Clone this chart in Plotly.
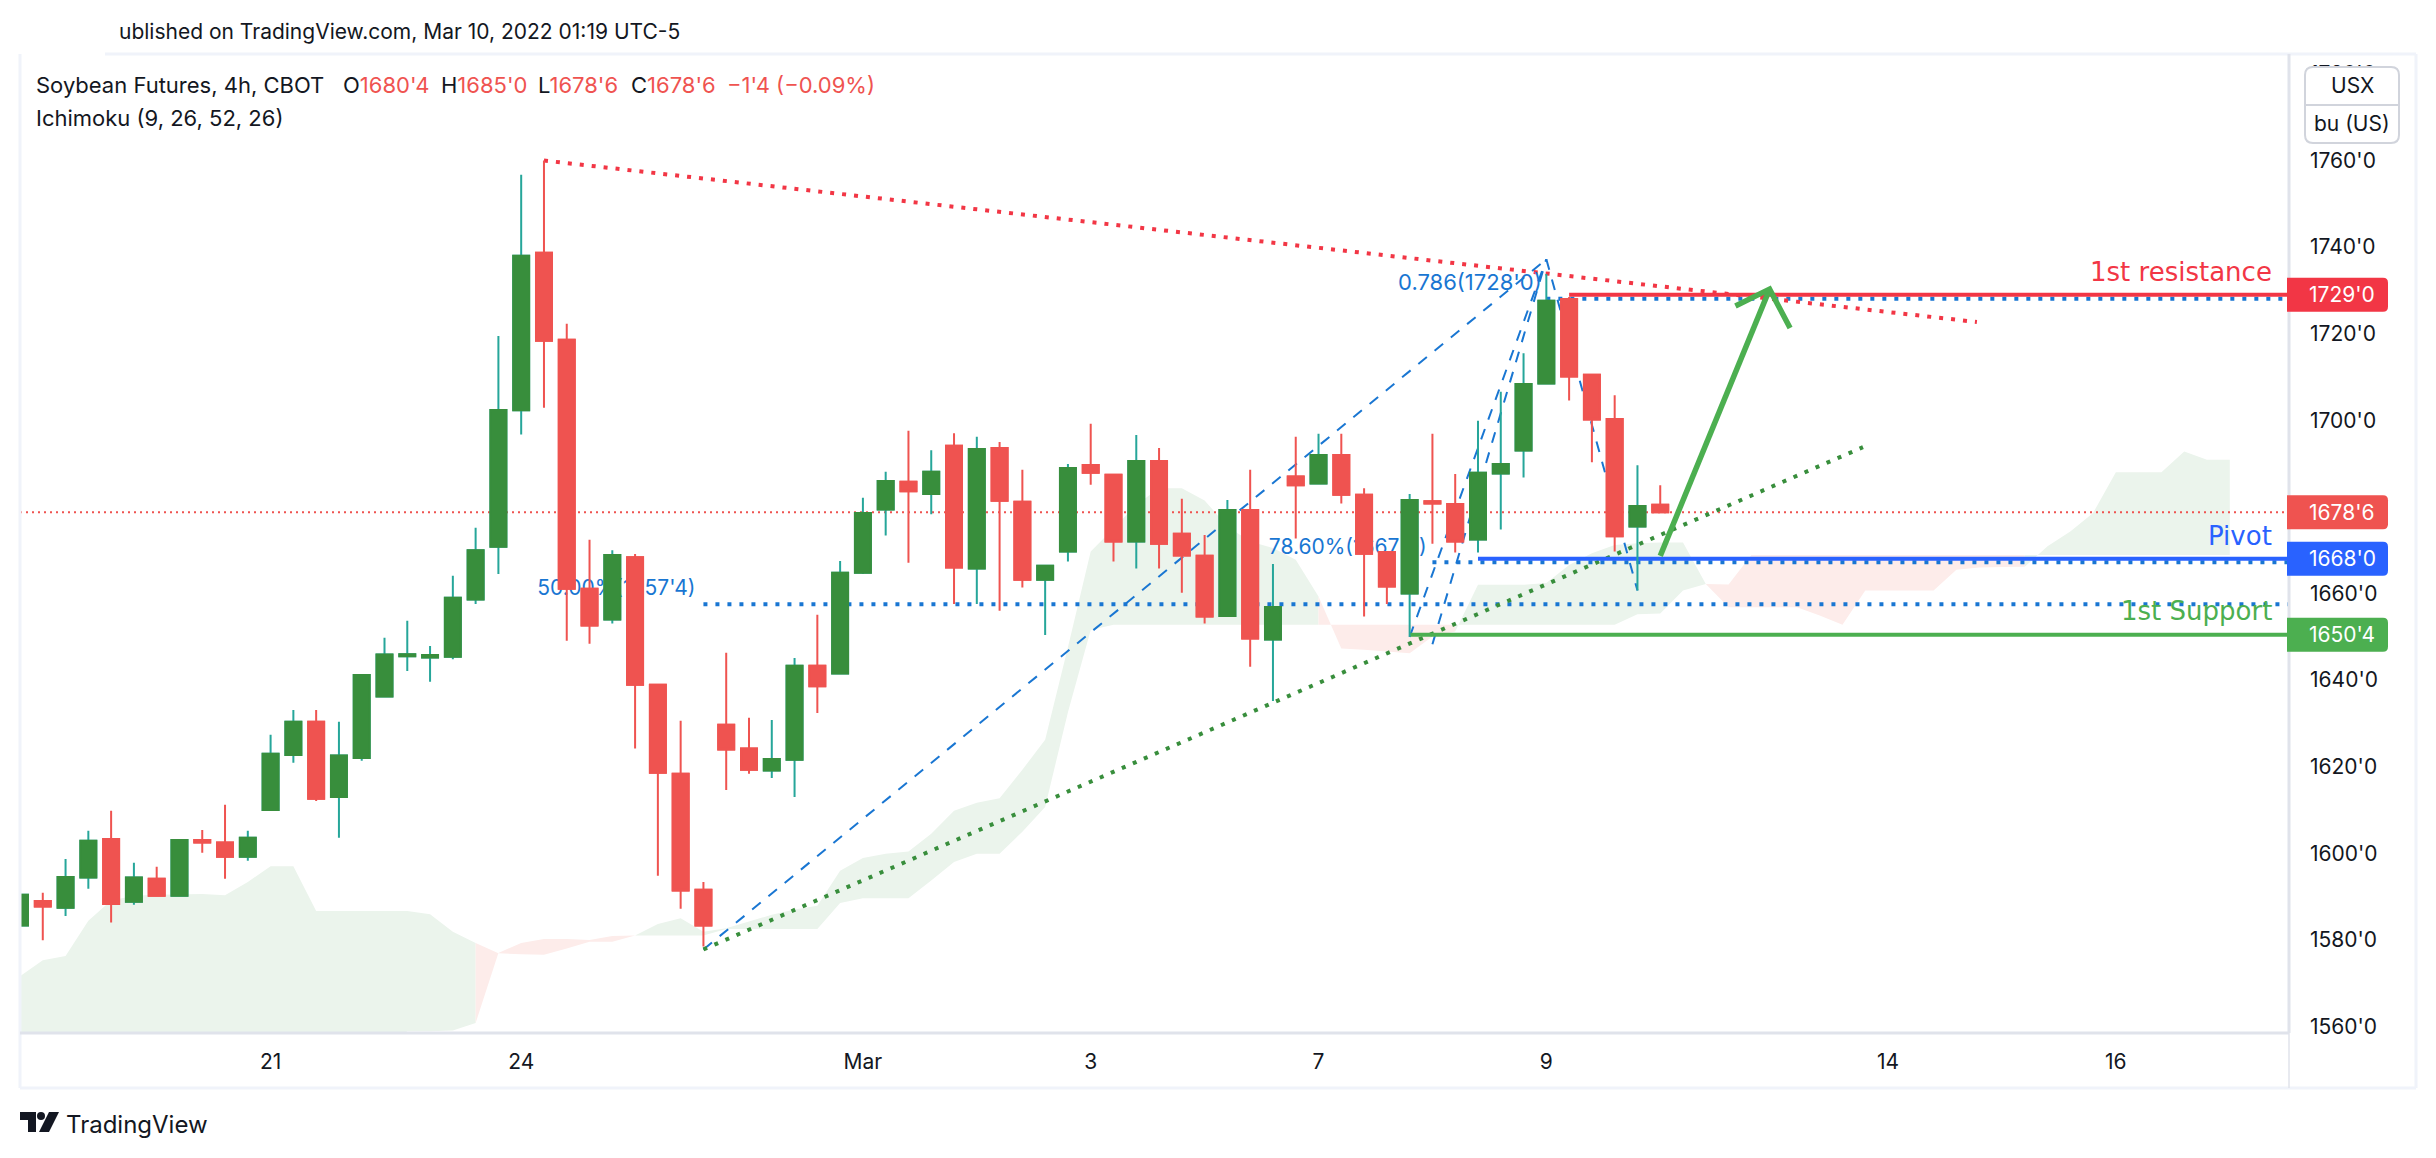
import plotly.graph_objects as go

# candles (price in cents, index = bar number)
c_open = [1583.3,1589,1587.4,1594.4,1603.3,1588.8,1594.1,1590.2,1603.1,1602.5,1599.2,1610,1622.7,1630.4,1613,1622,1636.2,1645.5,1645.2,1645.4,1658.6,1670.8,1702.3,1738.7,1718.6,1661.1,1654,1668.4,1638.9,1618.4,1591.6,
          1629.7,1624.2,1619.1,1621.6,1643.3,1641.5,1664.8,1679.4,1685.8,1683,1694.1,1665.8,1693.6,1681.2,1663.2,1669.7,1689.7,1687.4,1672,1690.6,1673.8,1668.7,1654.8,1679.3,1649.4,1687,1685.4,1692,1682.8,1669.6,1660,1681.3,1680.7,1672.5,1687.7,1693,1708.5,1728,1710.5,1700.3,1675.5,1680.5]
c_high = [1593.4,1590.9,1598.7,1605.2,1609.8,1597.8,1596.9,1603.3,1605.4,1611.2,1605.2,1627.4,1633.1,1633.1,1630.4,1641.2,1649.8,1653.7,1647.9,1664.1,1675.2,1719.5,1756.7,1760,1722.3,1672.4,1670,1669.1,1638.9,1630.6,1593.4,
          1646.3,1631.3,1630.8,1645.1,1655.1,1667.5,1682.1,1688.1,1697.6,1693.1,1697,1696.2,1695,1688.6,1666.4,1689.9,1699.2,1687.4,1696.6,1693.6,1681.9,1673.5,1681.6,1688.6,1666.8,1696.2,1696.9,1696.9,1684.3,1669.6,1683,1696.9,1687.6,1699.9,1706.6,1715.5,1733.8,1728.5,1710.5,1705.8,1689.6,1685]
c_low = [1581,1579.9,1585.5,1591.8,1584,1588.1,1590.2,1590.2,1600.1,1594.1,1598.3,1610,1620.9,1612.1,1603.6,1621.4,1636.2,1642.1,1639.6,1644.8,1657.6,1664.5,1696.7,1702.9,1649.1,1648.4,1653.1,1624.2,1594.8,1587.2,1578.5,
         1614.6,1618.4,1617.4,1613,1632.4,1641.5,1664.5,1673.4,1667.1,1678.3,1657.6,1657.6,1656,1661.4,1650.4,1667.4,1685.1,1667.4,1665.8,1665.8,1660.2,1653.1,1654.7,1643.1,1635.2,1672.7,1685.4,1680.8,1654.7,1657.6,1650,1671.5,1669.5,1669.5,1674.8,1686.8,1708.5,1704.6,1690.3,1669.7,1660.7,1678.75]
c_close = [1590.4,1587.7,1594.5,1602.9,1588.3,1594.4,1590.2,1603.1,1602.5,1599.2,1603.6,1623,1630.4,1612.6,1622.6,1641.2,1645.9,1646,1645.8,1659,1670,1702.4,1738,1718.4,1661.1,1652.6,1668.9,1638.9,1618.6,1591.4,1583.3,
           1624,1619.3,1621.8,1643.3,1638.6,1664.8,1678.6,1686,1683.6,1688.1,1666,1693.4,1681.4,1663.2,1666.4,1689,1687.9,1672,1690.6,1671.5,1668.8,1654.7,1679.3,1649.6,1656.9,1685,1692,1682.8,1669.2,1661.6,1681.6,1680.8,1672,1687.9,1689.9,1708.4,1727.6,1710.1,1700.2,1673.2,1680.2,1678.75]
bars = list(range(len(c_open)))

# ichimoku cloud edges, bars 0..97
span_a = [1571.6,1575.3,1576.3,1584.4,1589.1,1590.2,1590.4,1590.5,1590.6,1590.3,1593.4,1597,1597,1586.7,1586.7,1586.7,1586.7,1586.7,1585.9,1581.9,1579.3,
          1576.9,1576.7,1576.6,1578,1579.6,1579.6,1581,1583.7,1585,1581.9,1582.7,1584.2,1585.8,1587,1587.9,1596,1598.9,1599.9,1600.4,1604.5,1609.8,1611.7,1612.7,1619.3,1626.2,1647.6,1669.7,
          1675,1680.5,1684.3,1684.3,1681.5,1675.5,1672,1670.5,1667.8,1659.3,1647.3,1647,1646.6,1646.2,1650.1,1651.2,1662,1662,1662,1662.4,1666.6,1669.3,1671.2,1671.6,1671.8,1671.8,1662.2,
          1656.8,1656.8,1656.8,1656.8,1654.9,1652.8,1660.7,1660.7,1660.7,1660.7,1665.5,1666,1666.1,1666.2,1670.9,1674.3,1678.6,1688,1688,1688,1692.8,1690.9,1690.9]
span_b = [1555,1555,1555,1555,1555,1555,1555,1555,1555,1555,1555,1555,1555,1555,1555,1555,1555,1558.9,1558.9,1559.1,1560.8,
          1577,1579.3,1580.2,1580.2,1580,1580.9,1581,1581,1581,1581,1582.5,1582.5,1582.5,1582.5,1582.5,1588.5,1589.6,1589.6,1589.6,1593.7,1598,1599.9,1599.9,1605,1610.7,1632.6,1651.6,
          1652.8,1652.8,1652.8,1652.8,1652.8,1652.8,1652.8,1652.8,1652.8,1652.8,1652.8,1652.8,1652.8,1652.8,1652.8,1652.8,1652.8,1652.8,1652.8,1652.8,1652.8,1652.8,1652.8,1655.2,1655.4,1660.7,1662.2,
          1662.1,1668.9,1668.9,1668.9,1668.9,1668.9,1668.9,1668.9,1668.9,1668.9,1668.9,1668.9,1668.9,1668.9,1668.9,1668.9,1668.9,1668.9,1668.9,1668.9,1668.9,1668.9,1668.9]
# (first bar, last bar, colour) of each cloud stretch
cloud_parts = [(0,20,'#ebf4ec'),(20,27,'#fdecea'),(27,57,'#ebf4ec'),(57,63,'#fdecea'),(63,74,'#ebf4ec'),(74,88,'#fdecea'),(88,97,'#ebf4ec')]

x_tickvals = [11,22,37,47,57,67,82,92]
x_ticktext = ['21','24','Mar','3','7','9','14','16']
y_tickvals = [1780,1760,1740,1720,1700,1660,1640,1620,1600,1580,1560]
y_ticktext = ["1780'0","1760'0","1740'0","1720'0","1700'0","1660'0","1640'0","1620'0","1600'0","1580'0","1560'0"]

last_price = 1678.75
resistance = 1729
pivot = 1668
support = 1650.5
fib_786 = 1728.1
fib_7860 = 1667.2
fib_50 = 1657.5

RED='#f23645'; BLUE='#2962ff'; GREEN='#4caf50'; FIB='#1976d2'; DARK='#131722'
FONT='Inter'

# pixel box of the plot area in the page
L,R,T,B = 20,2289,54,1033
W,H = 2436,1158
x_range = [0,99.6]
y_range = [1558.5,1784.6]
def px(x): return (x-L)/(R-L)
def py(y): return (B-y)/(B-T)

fig = go.Figure()

# cloud
for a,b,col in cloud_parts:
    xs = list(range(a,b+1))
    fig.add_trace(go.Scatter(x=xs,y=span_b[a:b+1],mode='lines',line=dict(width=0),hoverinfo='skip'))
    fig.add_trace(go.Scatter(x=xs,y=span_a[a:b+1],mode='lines',line=dict(width=0),fill='tonexty',fillcolor=col,hoverinfo='skip'))

def line(xs,ys,color,width,dash='solid'):
    fig.add_trace(go.Scatter(x=xs,y=ys,mode='lines',line=dict(color=color,width=width,dash=dash),hoverinfo='skip'))

# last price
line(x_range,[last_price,last_price],'#ef5350',2,'2px,4px')
# fib lines
dash_fib='11px,10px'
line([30,67],[1577.8,1737.2],FIB,2,dash_fib)
line([61,67],[1650,1737.2],FIB,2,dash_fib)
line([62,67],[1648.3,1737.2],FIB,2,dash_fib)
line([67,71],[1737.2,1660.7],FIB,2,dash_fib)
dot='4px,8px'
line([67,x_range[1]],[fib_786,fib_786],FIB,4,dot)
line([62,x_range[1]],[fib_7860,fib_7860],FIB,4,dot)
line([30,x_range[1]],[fib_50,fib_50],FIB,4,dot)
# trend lines
line([23,85.9],[1760,1722.7],RED,4,dot)
line([30,80.9],[1577.8,1693.8],'#388e3c',4,dot)
# levels
line([68,x_range[1]],[resistance,resistance],RED,4)
line([64,x_range[1]],[pivot,pivot],BLUE,4)
line([61,x_range[1]],[support,support],GREEN,4)
# arrow
line([72,76.8],[1668.7,1730.3],GREEN,5.5)
line([75.3,76.8,77.7],[1726.4,1730.3,1721.3],GREEN,5.5)

# fib texts sit under the candles, so they are scatter text and not annotations
fig.add_trace(go.Scatter(x=[66.8,61.75,29.65],y=[1731.3,1670.3,1660.8],mode='text',
    text=["0.786(1728'0)","78.60%(1667'0)","50.00%(1657'4)"],textposition='middle left',
    textfont=dict(color=FIB,size=[22,21,21],family=FONT),hoverinfo='skip'))

# candles on an overlay axis: wicks first, then bodies on top
fig.add_trace(go.Candlestick(x=bars,open=c_open,high=c_high,low=c_low,close=c_close,xaxis='x2',yaxis='y2',
    increasing=dict(line=dict(color='#26a69a',width=2),fillcolor='#388e3c'),
    decreasing=dict(line=dict(color='#ef5350',width=2),fillcolor='#ef5350'),hoverinfo='skip'))
body_high = [max(o,c) for o,c in zip(c_open,c_close)]
body_low = [min(o,c) for o,c in zip(c_open,c_close)]
fig.add_trace(go.Candlestick(x=bars,open=c_open,high=body_high,low=body_low,close=c_close,xaxis='x2',yaxis='y2',
    increasing=dict(line=dict(color='#388e3c',width=2),fillcolor='#388e3c'),
    decreasing=dict(line=dict(color='#ef5350',width=2),fillcolor='#ef5350'),hoverinfo='skip'))

shapes = []
border = '#f0f3fa'
for x0,y0,x1,y1 in [(105,54,2416,54),(20,54,20,1088),(20,1088,2416,1088),(2416,54,2416,1088)]:
    shapes.append(dict(type='line',xref='paper',yref='paper',x0=px(x0),y0=py(y0),x1=px(x1),y1=py(y1),line=dict(color=border,width=3)))
shapes.append(dict(type='line',xref='paper',yref='paper',x0=px(20),y0=py(B),x1=px(R),y1=py(B),line=dict(color='#e0e3eb',width=3)))
shapes.append(dict(type='line',xref='paper',yref='paper',x0=px(R),y0=py(54),x1=px(R),y1=py(B),line=dict(color='#e0e3eb',width=3)))
shapes.append(dict(type='line',xref='paper',yref='paper',x0=px(R),y0=py(B),x1=px(R),y1=py(1088),line=dict(color='#e0e3eb',width=1.5)))

# price tags on the axis
ann = []
def tag(price,text,color):
    yc = T+(y_range[1]-price)/(y_range[1]-y_range[0])*(B-T)
    x0,x1,y0,y1,r = R-2,2388,yc-17,yc+17,5
    path = (f'M {px(x0)} {py(y0)} L {px(x1-r)} {py(y0)} Q {px(x1)} {py(y0)} {px(x1)} {py(y0+r)} '
            f'L {px(x1)} {py(y1-r)} Q {px(x1)} {py(y1)} {px(x1-r)} {py(y1)} L {px(x0)} {py(y1)} Z')
    shapes.append(dict(type='path',xref='paper',yref='paper',path=path,fillcolor=color,line=dict(width=0)))
    ann.append(dict(xref='paper',yref='y',x=px(2307),y=price,xanchor='left',yanchor='middle',text=text,showarrow=False,
                    font=dict(color='white',size=21,family=FONT)))
tag(resistance,"1729'0",RED)
tag(last_price,"1678'6",'#ef5350')
tag(pivot,"1668'0",BLUE)
tag(support,"1650'4",GREEN)

# currency / unit box
x0,x1,y0,y1,r = 2305,2399,67,143,8
path = (f'M {px(x0+r)} {py(y0)} L {px(x1-r)} {py(y0)} Q {px(x1)} {py(y0)} {px(x1)} {py(y0+r)} L {px(x1)} {py(y1-r)} Q {px(x1)} {py(y1)} {px(x1-r)} {py(y1)} '
        f'L {px(x0+r)} {py(y1)} Q {px(x0)} {py(y1)} {px(x0)} {py(y1-r)} L {px(x0)} {py(y0+r)} Q {px(x0)} {py(y0)} {px(x0+r)} {py(y0)} Z')
shapes.append(dict(type='path',xref='paper',yref='paper',path=path,fillcolor='white',line=dict(color='#d1d4dc',width=2)))
shapes.append(dict(type='line',xref='paper',yref='paper',x0=px(x0),y0=py(105),x1=px(x1),y1=py(105),line=dict(color='#d1d4dc',width=2)))

def text(x,y,s,color=DARK,size=22,anchor='left',family=FONT):
    ann.append(dict(xref='paper',yref='paper',x=px(x),y=py(y),xanchor=anchor,yanchor='middle',text=s,showarrow=False,
                    font=dict(color=color,size=size,family=family)))
text(2352,85,'USX',size=21,anchor='center')
text(2352,123,'bu (US)',size=21,anchor='center')
text(117,31,'ublished on TradingView.com, Mar 10, 2022 01:19 UTC-5',size=21)
text(34,85,'Soybean Futures, 4h, CBOT')
nums = [(341,'O',"1680'4"),(439,'H',"1685'0"),(536,'L',"1678'6"),(629,'C',"1678'6")]
for x,k,v in nums:
    text(x,85,f"{k}<span style='color:#ef5350'>{v}</span>")
text(725,85,"\u22121'4 (\u22120.09%)",color='#ef5350')
text(34,118,'Ichimoku (9, 26, 52, 26)')
text(2274,272,'1st resistance',RED,26,'right','DejaVu Sans')
text(2274,536,'Pivot',BLUE,26,'right','DejaVu Sans')
text(2274,611,'1st Support',GREEN,26,'right','DejaVu Sans')
text(64,1124,'TradingView',DARK,24)

# logo
shapes.append(dict(type='path',xref='paper',yref='paper',fillcolor=DARK,line=dict(width=0),
    path=f'M {px(20)} {py(1112)} L {px(36)} {py(1112)} L {px(36)} {py(1132)} L {px(28)} {py(1132)} L {px(28)} {py(1120)} L {px(20)} {py(1120)} Z'))
shapes.append(dict(type='circle',xref='paper',yref='paper',fillcolor=DARK,line=dict(width=0),x0=px(37),x1=px(45),y0=py(1112),y1=py(1120)))
shapes.append(dict(type='path',xref='paper',yref='paper',fillcolor=DARK,line=dict(width=0),
    path=f'M {px(49)} {py(1112)} L {px(59)} {py(1112)} L {px(49)} {py(1132)} L {px(39)} {py(1132)} Z'))

axis_font = dict(color=DARK,size=21,family=FONT)
fig.update_layout(
    width=W,height=H,autosize=False,showlegend=False,
    paper_bgcolor='white',plot_bgcolor='white',
    margin=dict(l=L,r=W-R,t=T,b=H-B,pad=0),
    boxmode='overlay',boxgap=0.3,boxgroupgap=0,
    shapes=shapes,annotations=ann,hovermode=False,
    xaxis=dict(range=x_range,tickvals=x_tickvals,ticktext=x_ticktext,showgrid=False,zeroline=False,tickfont=axis_font,
               ticklen=0,ticklabelstandoff=14,rangeslider_visible=False,showline=False),
    yaxis=dict(range=y_range,side='right',tickvals=y_tickvals,ticktext=y_ticktext,showgrid=False,zeroline=False,tickfont=axis_font,
               ticklen=0,ticklabelstandoff=20,showline=False),
    xaxis2=dict(range=x_range,overlaying='x',visible=False,rangeslider_visible=False),
    yaxis2=dict(range=y_range,overlaying='y',visible=False),
)

fig.write_html("out.html",config=dict(displayModeBar=False),post_script="document.body.style.margin='0';document.body.style.overflow='hidden';")
